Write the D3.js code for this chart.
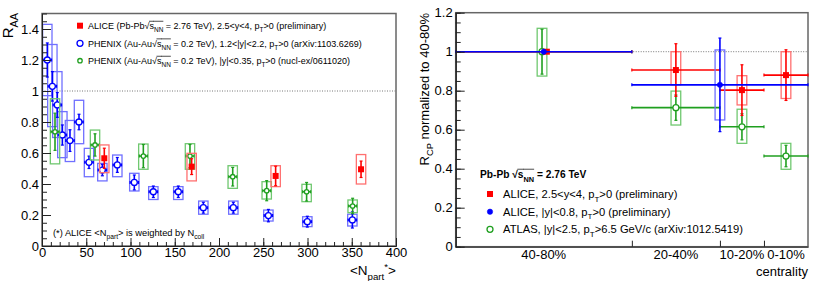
<!DOCTYPE html>
<html>
<head>
<meta charset="utf-8">
<script src="https://cdn.jsdelivr.net/npm/d3@7"></script>
<style>
body { margin: 0; background: #fff; }
svg { display: block; font-family: "Liberation Sans", Arial, Helvetica, sans-serif; }
</style>
</head>
<body>
<svg id="chart" width="830" height="281"></svg>
<script>
/* ---- left panel: R_AA vs <Npart> ---- */
var phenixFwdNpart = [6, 11.7, 17.3, 23, 31.6, 41.8, 53.1, 68.2, 85.1, 104.3, 125.8, 154, 182.3, 216.2, 255.8, 299.8, 350.7];
var phenixFwdRaa   = [1.20, 1.03, 0.91, 0.716, 0.68, 0.80, 0.54, 0.49, 0.523, 0.41, 0.35, 0.35, 0.247, 0.247, 0.196, 0.157, 0.168];
var phenixFwdStat  = [0.11, 0.095, 0.08, 0.065, 0.07, 0.05, 0.04, 0.037, 0.048, 0.048, 0.037, 0.037, 0.035, 0.035, 0.04, 0.035, 0.052];
var phenixFwdSysLo = [0.97, 0.77, 0.70, 0.57, 0.545, 0.66, 0.447, 0.42, 0.447, 0.355, 0.30, 0.30, 0.205, 0.205, 0.161, 0.125, 0.129];
var phenixFwdSysHi = [1.43, 1.30, 1.125, 0.867, 0.81, 0.94, 0.63, 0.533, 0.587, 0.469, 0.383, 0.383, 0.29, 0.29, 0.232, 0.189, 0.205];

var phenixMidNpart = [14.7, 59.9, 114.5, 167.2, 215.5, 253.9, 299, 351];
var phenixMidRaa   = [0.737, 0.652, 0.58, 0.58, 0.447, 0.357, 0.35, 0.258];
var phenixMidStat  = [0.12, 0.072, 0.075, 0.075, 0.06, 0.065, 0.06, 0.05];
var phenixMidSysLo = [0.53, 0.555, 0.495, 0.495, 0.372, 0.303, 0.286, 0.215];
var phenixMidSysHi = [0.95, 0.748, 0.658, 0.66, 0.518, 0.415, 0.398, 0.297];

var aliceNpart = [70.4, 169.1, 264, 360.5];
var aliceRaa   = [0.566, 0.512, 0.452, 0.495];
var aliceStat  = [0.065, 0.051, 0.063, 0.053];
var aliceSysLo = [0.473, 0.42, 0.383, 0.40];
var aliceSysHi = [0.652, 0.598, 0.518, 0.59];

var xTicksL = [0, 50, 100, 150, 200, 250, 300, 350, 400];
var yTicksL = [0, 0.2, 0.4, 0.6, 0.8, 1, 1.2, 1.4];
var yTickLabelsL = ["0", "0.2", "0.4", "0.6", "0.8", "1", "1.2", "1.4"];

/* ---- right panel: R_CP vs centrality ---- */
var aliceFwdCent  = [59.3, 30, 15, 5];
var aliceFwdBinLo = [40, 20, 10, 0];
var aliceFwdBinHi = [80, 40, 20, 10];
var aliceFwdRcp   = [1.0, 0.906, 0.803, 0.88];
var aliceFwdStat  = [0, 0.135, 0.13, 0.13];
var aliceFwdSysLo = [1.0, 0.83, 0.727, 0.76];
var aliceFwdSysHi = [1.0, 1.0, 0.877, 1.0];

var aliceMidCent  = [60, 20];
var aliceMidBinLo = [40, 0];
var aliceMidBinHi = [80, 40];
var aliceMidRcp   = [1.0, 0.83];
var aliceMidStat  = [0, 0.24];
var aliceMidSysLo = [1.0, 0.65];
var aliceMidSysHi = [1.0, 1.009];

var atlasCent  = [60.4, 30, 15, 5];
var atlasBinLo = [40, 20, 10, 0];
var atlasBinHi = [80, 40, 20, 10];
var atlasRcp   = [1.0, 0.713, 0.615, 0.465];
var atlasStat  = [0.115, 0.065, 0.067, 0.055];
var atlasSysLo = [0.875, 0.624, 0.53, 0.397];
var atlasSysHi = [1.12, 0.798, 0.705, 0.53];

var centBounds = [40, 20, 10];
var centLabels = ["40-80%", "20-40%", "10-20%", "0-10%"];
var centLabelPos = [60, 30, 15, 5];
var yTicksR = [0, 0.2, 0.4, 0.6, 0.8, 1, 1.2];
var yTickLabelsR = ["0", "0.2", "0.4", "0.6", "0.8", "1", "1.2"];

var RED = "#ff0000", BLUE = "#0000ff", GREEN = "#1f9f1f";
var RED_BOX = "#ff7070", BLUE_BOX = "#7070ff", GREEN_BOX = "#70c870";

var svg = d3.select("#chart");
svg.append("rect").attr("width", 830).attr("height", 281).attr("fill", "#fff");

/* text with sub/superscripts and overline (for sqrt) */
function richText(g, x, y, fs, parts, anchor, weight) {
    var t = g.append("text").attr("x", x).attr("y", y)
        .attr("font-size", fs).attr("fill", "#000")
        .attr("text-anchor", anchor || "start");
    if (weight) t.attr("font-weight", weight);
    var shift = 0, idx = 0, over = [];
    parts.forEach(function(p) {
        var s = p[0], mode = p[1] || "";
        var want = mode.indexOf("sub") >= 0 ? fs * 0.35 : mode.indexOf("sup") >= 0 ? -fs * 0.4 : 0;
        var ts = t.append("tspan").text(s).attr("dy", want - shift);
        if (want !== 0) ts.attr("font-size", fs * 0.72);
        shift = want;
        if (mode.indexOf("o") === 0 || mode.indexOf("|o") >= 0) over.push([idx, idx + s.length - 1]);
        idx += s.length;
    });
    return { node: t, over: over };
}

function drawOverlines(g, rt, fs) {
    var n = rt.node.node();
    rt.over.forEach(function(r) {
        var a = n.getExtentOfChar(r[0]), b = n.getExtentOfChar(r[1]);
        var yTop = +rt.node.attr("y") - fs * 0.86;
        g.append("line").attr("x1", a.x - 0.5).attr("x2", b.x + b.width)
            .attr("y1", yTop).attr("y2", yTop)
            .attr("stroke", "#000").attr("stroke-width", 0.7);
    });
}

function pts(xs, ys, stat, lo, hi) {
    return xs.map(function(x, i) { return { x: x, y: ys[i], stat: stat[i], lo: lo[i], hi: hi[i] }; });
}

/* ================= LEFT PANEL ================= */
var xL = d3.scaleLinear().domain([0, 400]).range([42, 396]);
var yL = d3.scaleLinear().domain([0, 1.5]).range([246, 13.5]);
var gL = svg.append("g");

gL.append("rect").attr("x", 42).attr("y", 13.5).attr("width", 354).attr("height", 232.5)
    .attr("fill", "none").attr("stroke", "#666").attr("stroke-width", 1.5);

gL.append("line").attr("x1", xL(0)).attr("x2", xL(400)).attr("y1", yL(1)).attr("y2", yL(1))
    .attr("stroke", "#777").attr("stroke-width", 1).attr("stroke-dasharray", "1,1.5");

function drawSeriesL(data, color, boxColor, marker, hErr) {
    var g = gL.append("g");
    var bw = 5.3;
    g.selectAll("rect.sys").data(data).enter().append("rect")
        .attr("x", function(d) { return xL(d.x - bw); })
        .attr("width", function(d) { return xL(d.x + bw) - xL(d.x - bw); })
        .attr("y", function(d) { return yL(d.hi); })
        .attr("height", function(d) { return yL(d.lo) - yL(d.hi); })
        .attr("fill", "none").attr("stroke", boxColor).attr("stroke-width", 1.3);
    g.selectAll("line.ey").data(data).enter().append("line")
        .attr("x1", function(d) { return xL(d.x); }).attr("x2", function(d) { return xL(d.x); })
        .attr("y1", function(d) { return yL(d.y + d.stat); }).attr("y2", function(d) { return yL(d.y - d.stat); })
        .attr("stroke", color).attr("stroke-width", 1.6);
    [1, -1].forEach(function(s) {
        g.selectAll("line.cap" + s).data(data).enter().append("line")
            .attr("x1", function(d) { return xL(d.x) - 1.5; }).attr("x2", function(d) { return xL(d.x) + 1.5; })
            .attr("y1", function(d) { return yL(d.y + s * d.stat); }).attr("y2", function(d) { return yL(d.y + s * d.stat); })
            .attr("stroke", color).attr("stroke-width", 1.2);
    });
    if (hErr) {
        g.selectAll("line.ex").data(data).enter().append("line")
            .attr("x1", function(d) { return xL(d.x - hErr); }).attr("x2", function(d) { return xL(d.x + hErr); })
            .attr("y1", function(d) { return yL(d.y); }).attr("y2", function(d) { return yL(d.y); })
            .attr("stroke", color).attr("stroke-width", 1.6);
        [1, -1].forEach(function(s) {
            g.selectAll("line.hcap" + s).data(data).enter().append("line")
                .attr("x1", function(d) { return xL(d.x + s * hErr); }).attr("x2", function(d) { return xL(d.x + s * hErr); })
                .attr("y1", function(d) { return yL(d.y) - 1.5; }).attr("y2", function(d) { return yL(d.y) + 1.5; })
                .attr("stroke", color).attr("stroke-width", 1.2);
        });
    }
    drawMarkers(g, data, function(d) { return xL(d.x); }, function(d) { return yL(d.y); }, color, marker);
}

function drawMarkers(g, data, fx, fy, color, marker) {
    if (marker.type === "square") {
        g.selectAll("rect.mk").data(data).enter().append("rect")
            .attr("x", function(d) { return fx(d) - marker.size / 2; })
            .attr("y", function(d) { return fy(d) - marker.size / 2; })
            .attr("width", marker.size).attr("height", marker.size).attr("fill", color);
    } else {
        g.selectAll("circle.mk").data(data).enter().append("circle")
            .attr("cx", fx).attr("cy", fy).attr("r", marker.size)
            .attr("fill", marker.open ? "#fff" : color)
            .attr("stroke", color).attr("stroke-width", marker.open ? 1.3 : 0.5);
    }
}

drawSeriesL(pts(phenixFwdNpart, phenixFwdRaa, phenixFwdStat, phenixFwdSysLo, phenixFwdSysHi),
    BLUE, BLUE_BOX, { type: "circle", size: 3, open: true }, 4.8);
drawSeriesL(pts(phenixMidNpart, phenixMidRaa, phenixMidStat, phenixMidSysLo, phenixMidSysHi),
    GREEN, GREEN_BOX, { type: "circle", size: 2.2, open: true }, 4.5);
drawSeriesL(pts(aliceNpart, aliceRaa, aliceStat, aliceSysLo, aliceSysHi),
    RED, RED_BOX, { type: "square", size: 6 }, 0);

// axes
gL.append("g").attr("transform", "translate(0,246)")
    .call(d3.axisBottom(xL).tickValues(d3.range(0, 401, 10)).tickSize(-4).tickSizeOuter(0).tickFormat(""));
gL.append("g").attr("transform", "translate(0,246)")
    .call(d3.axisBottom(xL).tickValues(xTicksL).tickSize(-8).tickSizeOuter(0).tickPadding(2));
gL.append("g").attr("transform", "translate(42,0)")
    .call(d3.axisLeft(yL).tickValues(d3.range(0, 31).map(function(i) { return i * 0.05; })).tickSize(-5).tickSizeOuter(0).tickFormat(""));
gL.append("g").attr("transform", "translate(42,0)")
    .call(d3.axisLeft(yL).tickValues(yTicksL).tickSize(-9).tickSizeOuter(0).tickPadding(3)
        .tickFormat(function(d, i) { return yTickLabelsL[i]; }));

/* ================= RIGHT PANEL ================= */
var xR = d3.scaleLinear().domain([80, 0]).range([455.7, 808]);
var yR = d3.scaleLinear().domain([0, 1.2]).range([246.7, 12.7]);
var gR = svg.append("g");

gR.append("rect").attr("x", 455.7).attr("y", 12.7).attr("width", 352.3).attr("height", 234)
    .attr("fill", "none").attr("stroke", "#666").attr("stroke-width", 1.5);
gR.append("line").attr("x1", xR(80)).attr("x2", xR(0)).attr("y1", yR(1)).attr("y2", yR(1))
    .attr("stroke", "#777").attr("stroke-width", 1).attr("stroke-dasharray", "1,1.5");

function rcpPts(cent, bLo, bHi, v, stat, lo, hi) {
    return cent.map(function(c, i) {
        return { c: c, b0: bLo[i], b1: bHi[i], y: v[i], stat: stat[i], lo: lo[i], hi: hi[i] };
    });
}

function drawSeriesR(data, color, boxColor, marker) {
    var g = gR.append("g");
    var bw = 1.1;
    g.selectAll("rect.sys").data(data.filter(function(d) { return d.hi > d.lo; })).enter().append("rect")
        .attr("x", function(d) { return xR(d.c + bw); })
        .attr("width", function(d) { return xR(d.c - bw) - xR(d.c + bw); })
        .attr("y", function(d) { return yR(d.hi); })
        .attr("height", function(d) { return yR(d.lo) - yR(d.hi); })
        .attr("fill", "none").attr("stroke", boxColor).attr("stroke-width", 1.3);
    g.selectAll("line.ex").data(data).enter().append("line")
        .attr("x1", function(d) { return xR(d.b1); }).attr("x2", function(d) { return xR(d.b0); })
        .attr("y1", function(d) { return yR(d.y); }).attr("y2", function(d) { return yR(d.y); })
        .attr("stroke", color).attr("stroke-width", 1.6);
    ["b0", "b1"].forEach(function(k) {
        g.selectAll("line.hc" + k).data(data).enter().append("line")
            .attr("x1", function(d) { return xR(d[k]); }).attr("x2", function(d) { return xR(d[k]); })
            .attr("y1", function(d) { return yR(d.y) - 1.5; }).attr("y2", function(d) { return yR(d.y) + 1.5; })
            .attr("stroke", color).attr("stroke-width", 1.2);
    });
    var withStat = data.filter(function(d) { return d.stat > 0; });
    g.selectAll("line.ey").data(withStat).enter().append("line")
        .attr("x1", function(d) { return xR(d.c); }).attr("x2", function(d) { return xR(d.c); })
        .attr("y1", function(d) { return yR(d.y + d.stat); }).attr("y2", function(d) { return yR(d.y - d.stat); })
        .attr("stroke", color).attr("stroke-width", 1.6);
    [1, -1].forEach(function(s) {
        g.selectAll("line.vc" + s).data(withStat).enter().append("line")
            .attr("x1", function(d) { return xR(d.c) - 1.5; }).attr("x2", function(d) { return xR(d.c) + 1.5; })
            .attr("y1", function(d) { return yR(d.y + s * d.stat); }).attr("y2", function(d) { return yR(d.y + s * d.stat); })
            .attr("stroke", color).attr("stroke-width", 1.2);
    });
    drawMarkers(g, data, function(d) { return xR(d.c); }, function(d) { return yR(d.y); }, color, marker);
}

drawSeriesR(rcpPts(atlasCent, atlasBinLo, atlasBinHi, atlasRcp, atlasStat, atlasSysLo, atlasSysHi),
    GREEN, GREEN_BOX, { type: "circle", size: 3, open: true });
drawSeriesR(rcpPts(aliceFwdCent, aliceFwdBinLo, aliceFwdBinHi, aliceFwdRcp, aliceFwdStat, aliceFwdSysLo, aliceFwdSysHi),
    RED, RED_BOX, { type: "square", size: 6 });
drawSeriesR(rcpPts(aliceMidCent, aliceMidBinLo, aliceMidBinHi, aliceMidRcp, aliceMidStat, aliceMidSysLo, aliceMidSysHi),
    BLUE, BLUE_BOX, { type: "circle", size: 2.7, open: false });

// axes
gR.append("g").attr("transform", "translate(0,246.7)")
    .call(d3.axisBottom(xR).tickValues(centBounds).tickSize(-6).tickSizeOuter(0).tickFormat(""));
gR.append("g").attr("transform", "translate(455.7,0)")
    .call(d3.axisLeft(yR).tickValues(d3.range(0, 25).map(function(i) { return i * 0.05; })).tickSize(-5).tickSizeOuter(0).tickFormat(""));
gR.append("g").attr("transform", "translate(455.7,0)")
    .call(d3.axisLeft(yR).tickValues(yTicksR).tickSize(-9).tickSizeOuter(0).tickPadding(3)
        .tickFormat(function(d, i) { return yTickLabelsR[i]; }));

gR.selectAll("text.cent").data(centLabels).enter().append("text")
    .attr("x", function(d, i) { return xR(centLabelPos[i]); }).attr("y", 259)
    .attr("text-anchor", "middle").attr("font-size", 13).text(function(d) { return d; });

svg.selectAll(".tick text").attr("font-size", 13).attr("font-family", "Liberation Sans, Arial, sans-serif").attr("fill", "#000");
svg.selectAll(".domain, .tick line").attr("stroke", "#222");

/* ================= TITLES & LEGENDS ================= */
var tRaa = gL.append("g").attr("transform", "translate(12.5,13) rotate(-90)");
richText(tRaa, 0, 0, 15, [["R"], ["AA", "sub"]], "end");

richText(gL, 396, 275, 13.5, [["<N"], ["part", "sub"], ["*", "sup"], [">"]], "end");

var tRcp = gR.append("g").attr("transform", "translate(428.5,13) rotate(-90)");
richText(tRcp, 0, 0, 13, [["R"], ["CP", "sub"], [" normalized to 40-80%"]], "end");

gR.append("text").attr("x", 808).attr("y", 276).attr("text-anchor", "end")
    .attr("font-size", 13).text("centrality");

// left legend
var legL = [
    { color: RED, marker: { type: "square", size: 6 }, y: 25.7,
      parts: [["ALICE (Pb-Pb"], ["\u221A"], ["s", "o"], ["NN", "sub|o"], [" = 2.76 TeV), 2.5<y<4, p"], ["T", "sub"], [">0 (preliminary)"]] },
    { color: BLUE, marker: { type: "circle", size: 3, open: true }, y: 43.3,
      parts: [["PHENIX (Au-Au"], ["\u221A"], ["s", "o"], ["NN", "sub|o"], [" = 0.2 TeV), 1.2<|y|<2.2, p"], ["T", "sub"], [">0 (arXiv:1103.6269)"]] },
    { color: GREEN, marker: { type: "circle", size: 2.2, open: true }, y: 60.7,
      parts: [["PHENIX (Au-Au"], ["\u221A"], ["s", "o"], ["NN", "sub|o"], [" = 0.2 TeV), |y|<0.35, p"], ["T", "sub"], [">0 (nucl-ex/0611020)"]] }
];
legL.forEach(function(e) {
    drawMarkers(gL, [e], function() { return 80; }, function(d) { return d.y; }, e.color, e.marker);
    var rt = richText(gL, 88, e.y + 3.3, 9, e.parts);
    drawOverlines(gL, rt, 9);
});

richText(gL, 53, 236, 9.3, [["(*) ALICE <N"], ["part", "sub"], ["> is weighted by N"], ["coll", "sub"]]);

// right legend
var hdr = richText(gR, 480, 178, 10.2, [["Pb-Pb "], ["\u221A"], ["s", "o"], ["NN", "sub|o"], [" = 2.76 TeV"]], "start", "bold");
drawOverlines(gR, hdr, 10.2);

var legR = [
    { color: RED, marker: { type: "square", size: 6 }, y: 194,
      parts: [["ALICE, 2.5<y<4, p"], ["T", "sub"], [">0 (preliminary)"]] },
    { color: BLUE, marker: { type: "circle", size: 2.7, open: false }, y: 211.7,
      parts: [["ALICE, |y|<0.8, p"], ["T", "sub"], [">0 (preliminary)"]] },
    { color: GREEN, marker: { type: "circle", size: 3, open: true }, y: 229.3,
      parts: [["ATLAS, |y|<2.5, p"], ["T", "sub"], [">6.5 GeV/c (arXiv:1012.5419)"]] }
];
legR.forEach(function(e) {
    drawMarkers(gR, [e], function() { return 490; }, function(d) { return d.y; }, e.color, e.marker);
    richText(gR, 503, e.y + 3.8, 11.2, e.parts);
});
</script>
</body>
</html>
